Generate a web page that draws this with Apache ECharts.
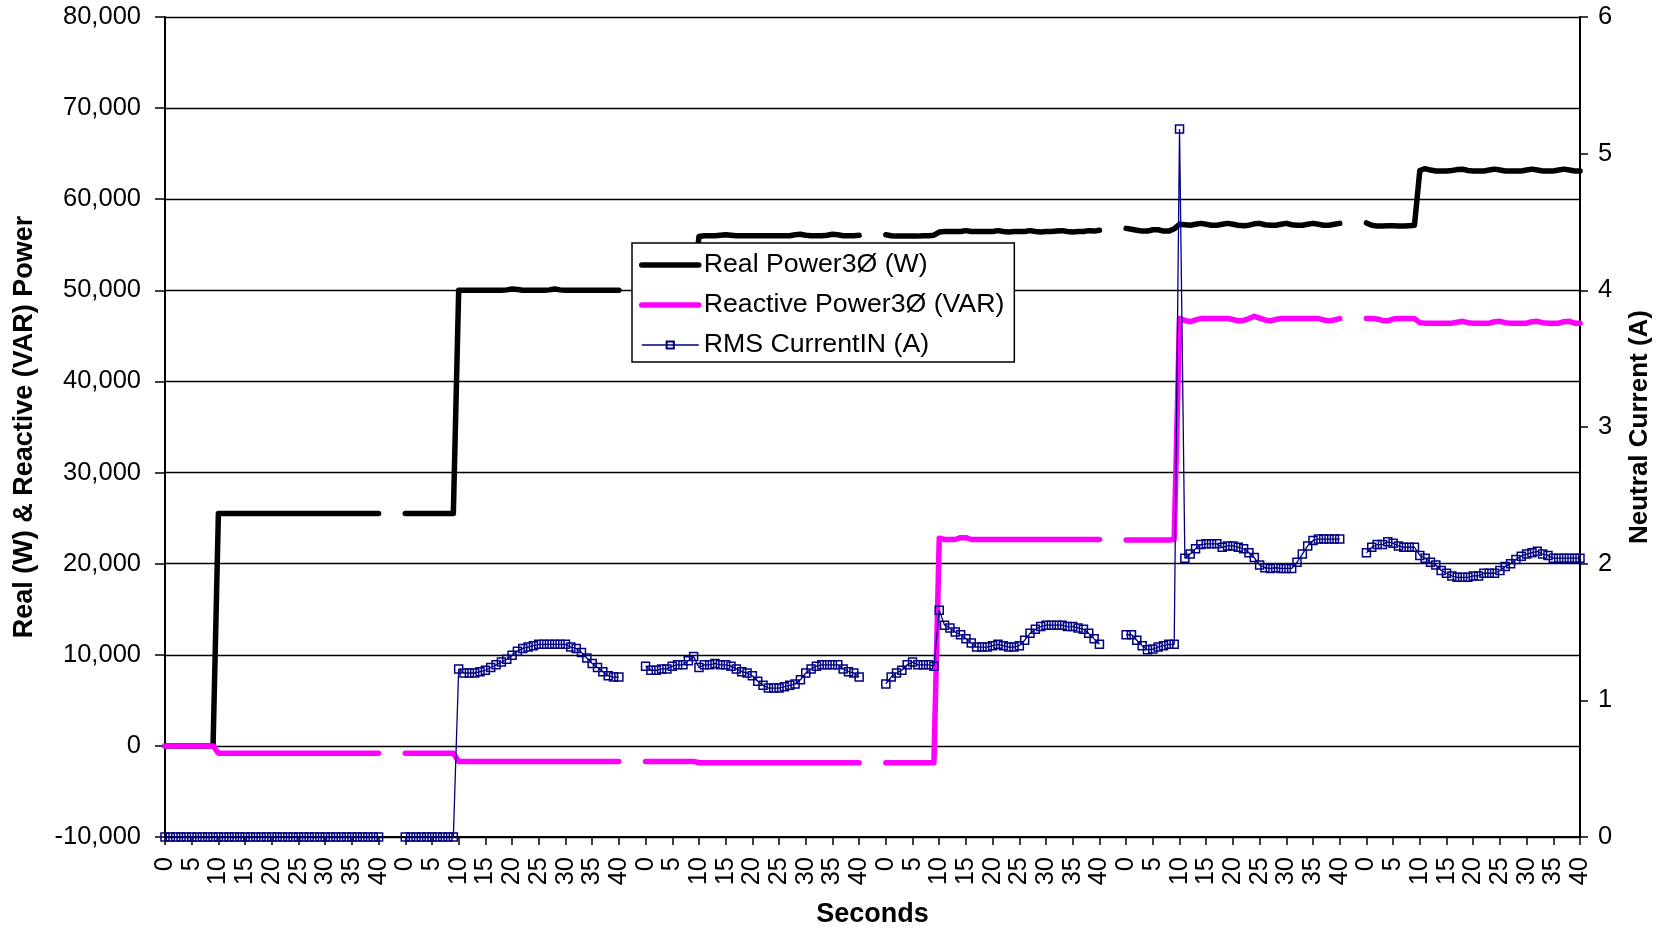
<!DOCTYPE html>
<html>
<head>
<meta charset="utf-8">
<script src="https://cdn.jsdelivr.net/npm/echarts@6/dist/echarts.min.js"></script>
<style>
  html, body { margin: 0; padding: 0; background: #fff; }
  #chart { width: 1669px; height: 930px; }
</style>
</head>
<body>
<div id="chart"></div>
<script>
// each run is 0..40 s, one sample per second; runs are separated by 4 blank rows
var runLength = 41;
var blankRows = 4;

// Real Power3Ø (W)
var real1 = [0,0,0,0,0,0,0,0,0,0,
  25500,25500,25500,25500,25500,25500,25500,25500,25500,25500,
  25500,25500,25500,25500,25500,25500,25500,25500,25500,25500,
  25500,25500,25500,25500,25500,25500,25500,25500,25500,25500,25500];
var real2 = [25500,25500,25500,25500,25500,25500,25500,25500,25500,25500,
  50000,50000,50000,50000,50000,50000,50000,50000,50000,50050,
  50150,50100,50000,50000,50000,50000,50000,50050,50150,50050,
  50000,50000,50000,50000,50000,50000,50000,50000,50000,50000,50000];
var real3 = [50000,50000,50000,50000,50000,50000,50000,50000,50000,50000,
  55900,56000,56000,56000,56050,56100,56050,56000,56000,56000,
  56000,56000,56000,56000,56000,56000,56000,56000,56100,56150,
  56050,56000,56000,56000,56050,56150,56100,56000,56000,56000,56050];
var real4 = [56100,56000,55950,55950,55950,55950,55950,56000,56000,56050,
  56400,56450,56450,56450,56450,56550,56450,56450,56450,56450,
  56450,56550,56450,56400,56450,56450,56450,56550,56450,56400,
  56450,56450,56500,56550,56450,56400,56450,56450,56550,56500,56600];
var real5 = [56800,56700,56600,56500,56500,56650,56650,56500,56500,56750,
  57250,57200,57150,57250,57350,57250,57150,57150,57250,57350,
  57250,57150,57100,57150,57300,57350,57200,57150,57150,57250,
  57350,57200,57150,57150,57250,57350,57250,57150,57150,57250,57350];
var real6 = [57400,57150,57050,57050,57100,57100,57050,57050,57100,57150,
  63150,63350,63200,63100,63100,63100,63150,63250,63300,63150,
  63100,63100,63100,63200,63300,63200,63100,63100,63100,63100,
  63200,63300,63200,63100,63100,63100,63200,63300,63200,63100,63100];

// Reactive Power3Ø (VAR)
var reac1 = [0,0,0,0,0,0,0,0,0,0,
  -800,-800,-800,-800,-800,-800,-800,-800,-800,-800,
  -800,-800,-800,-800,-800,-800,-800,-800,-800,-800,
  -800,-800,-800,-800,-800,-800,-800,-800,-800,-800,-800];
var reac2 = [-800,-800,-800,-800,-800,-800,-800,-800,-800,-800,
  -1700,-1700,-1700,-1700,-1700,-1700,-1700,-1700,-1700,-1700,
  -1700,-1700,-1700,-1700,-1700,-1700,-1700,-1700,-1700,-1700,
  -1700,-1700,-1700,-1700,-1700,-1700,-1700,-1700,-1700,-1700,-1700];
var reac3 = [-1700,-1700,-1700,-1700,-1700,-1700,-1700,-1700,-1700,-1700,
  -1850,-1850,-1850,-1850,-1850,-1850,-1850,-1850,-1850,-1850,
  -1850,-1850,-1850,-1850,-1850,-1850,-1850,-1850,-1850,-1850,
  -1850,-1850,-1850,-1850,-1850,-1850,-1850,-1850,-1850,-1850,-1850];
var reac4 = [-1850,-1850,-1850,-1850,-1850,-1850,-1850,-1850,-1850,-1850,
  22800,22650,22650,22650,22850,22850,22650,22650,22650,22650,
  22650,22650,22650,22650,22650,22650,22650,22650,22650,22650,
  22650,22650,22650,22650,22650,22650,22650,22650,22650,22650,22650];
var reac5 = [22600,22600,22600,22600,22600,22600,22600,22600,22600,22650,
  46900,46700,46550,46750,46900,46900,46900,46900,46900,46900,
  46800,46650,46700,46900,47150,46950,46750,46650,46800,46900,
  46900,46900,46900,46900,46900,46900,46900,46750,46650,46750,46900];
var reac6 = [46900,46900,46850,46700,46650,46850,46900,46900,46900,46900,
  46450,46400,46400,46400,46400,46400,46400,46500,46600,46450,
  46400,46400,46400,46400,46550,46600,46450,46400,46400,46400,
  46400,46550,46600,46450,46400,46400,46400,46550,46600,46400,46400];

// RMS CurrentIN (A)
var rms1 = [0,0,0,0,0,0,0,0,0,0,
  0,0,0,0,0,0,0,0,0,0,
  0,0,0,0,0,0,0,0,0,0,
  0,0,0,0,0,0,0,0,0,0,0];
var rms2 = [0,0,0,0,0,0,0,0,0,0,
  1.23,1.20,1.20,1.20,1.21,1.22,1.24,1.26,1.28,1.30,
  1.33,1.36,1.38,1.39,1.40,1.41,1.41,1.41,1.41,1.41,
  1.41,1.39,1.38,1.35,1.31,1.27,1.24,1.21,1.18,1.17,1.17];
var rms3 = [1.25,1.22,1.22,1.23,1.23,1.25,1.26,1.26,1.29,1.32,
  1.24,1.26,1.26,1.27,1.26,1.26,1.25,1.23,1.21,1.20,
  1.18,1.14,1.11,1.09,1.09,1.09,1.10,1.11,1.12,1.15,
  1.20,1.23,1.25,1.26,1.26,1.26,1.26,1.23,1.21,1.20,1.17];
var rms4 = [1.12,1.17,1.20,1.22,1.26,1.28,1.26,1.26,1.26,1.25,
  1.66,1.55,1.53,1.50,1.48,1.45,1.42,1.39,1.39,1.39,
  1.40,1.41,1.40,1.39,1.39,1.40,1.44,1.49,1.52,1.54,
  1.55,1.55,1.55,1.55,1.54,1.54,1.53,1.52,1.49,1.45,1.41];
var rms5 = [1.48,1.48,1.44,1.40,1.37,1.375,1.39,1.40,1.41,1.41,
  5.18,2.04,2.07,2.11,2.14,2.145,2.145,2.145,2.12,2.13,
  2.13,2.12,2.11,2.08,2.045,1.99,1.97,1.965,1.97,1.965,
  1.965,1.965,2.01,2.07,2.13,2.17,2.18,2.18,2.18,2.18,2.18];
var rms6 = [2.08,2.12,2.14,2.14,2.16,2.15,2.13,2.12,2.12,2.12,
  2.06,2.04,2.01,1.99,1.95,1.93,1.91,1.90,1.90,1.90,
  1.91,1.91,1.93,1.93,1.93,1.95,1.98,2.00,2.03,2.055,
  2.07,2.08,2.09,2.07,2.06,2.04,2.04,2.04,2.04,2.04,2.04];

var realRuns = [real1, real2, real3, real4, real5, real6];
var reacRuns = [reac1, reac2, reac3, reac4, reac5, reac6];
var rmsRuns  = [rms1, rms2, rms3, rms4, rms5, rms6];

// category rows: seconds of each run, blank rows in between
var categories = [];
for (var r = 0; r < realRuns.length; r++) {
  for (var t = 0; t < runLength; t++) categories.push(String(t));
  if (r < realRuns.length - 1) {
    for (var b = 0; b < blankRows; b++) categories.push('');
  }
}

function joinRuns(runs) {
  var out = [];
  for (var r = 0; r < runs.length; r++) {
    out = out.concat(runs[r]);
    if (r < runs.length - 1) {
      for (var b = 0; b < blankRows; b++) out.push(null);
    }
  }
  return out;
}

var font = '"Liberation Sans", Arial, sans-serif';
var chart = echarts.init(document.getElementById('chart'));

var option = {
  animation: false,
  backgroundColor: '#fff',
  textStyle: { fontFamily: font, color: '#000' },
  grid: { left: 165, right: 89, top: 17, bottom: 93, outerBoundsMode: 'none', containLabel: false },
  legend: {
    orient: 'vertical',
    left: 632,
    top: 243,
    padding: [7, 10, 2, 7],
    itemWidth: 57,
    itemHeight: 9,
    itemGap: 10,
    backgroundColor: '#fff',
    borderColor: '#000',
    borderWidth: 1.5,
    textStyle: { fontFamily: font, fontSize: 26.7, color: '#000', lineHeight: 30 },
    data: [
      { name: 'Real Power3Ø (W)', itemStyle: { opacity: 0 }, lineStyle: { width: 5.5, cap: 'round' } },
      { name: 'Reactive Power3Ø (VAR)', itemStyle: { opacity: 0 }, lineStyle: { width: 5.5, cap: 'round' } },
      { name: 'RMS CurrentIN (A)', lineStyle: { width: 1.5 } }
    ]
  },
  xAxis: {
    type: 'category',
    data: categories,
    boundaryGap: false,
    name: 'Seconds',
    nameLocation: 'middle',
    nameGap: 64,
    nameTextStyle: { fontFamily: font, fontSize: 27, fontWeight: 'bold', color: '#000' },
    axisLine: { onZero: false, lineStyle: { color: '#000', width: 2 } },
    axisTick: { interval: 4, length: 8, lineStyle: { color: '#000', width: 1.5 } },
    axisLabel: { interval: 4, rotate: 90, margin: 20, fontSize: 25.5, color: '#000', fontFamily: font },
    splitLine: { show: false }
  },
  yAxis: [
    {
      type: 'value',
      min: -10000,
      max: 80000,
      interval: 10000,
      name: 'Real (W) & Reactive (VAR) Power',
      nameLocation: 'middle',
      nameGap: 127,
      nameTextStyle: { fontFamily: font, fontSize: 27, fontWeight: 'bold', color: '#000' },
      axisLine: { show: true, lineStyle: { color: '#000', width: 2 } },
      axisTick: { show: true, length: 10, lineStyle: { color: '#000', width: 1.5 } },
      axisLabel: {
        margin: 24, fontSize: 25.5, color: '#000', fontFamily: font,
        formatter: function (v) { return v.toLocaleString('en-US'); }
      },
      splitLine: { show: true, lineStyle: { color: '#000', width: 1.3 } }
    },
    {
      type: 'value',
      position: 'right',
      min: 0,
      max: 6,
      interval: 1,
      name: 'Neutral Current (A)',
      nameLocation: 'middle',
      nameGap: 47,
      nameTextStyle: { fontFamily: font, fontSize: 26, fontWeight: 'bold', color: '#000' },
      axisLine: { show: true, lineStyle: { color: '#000', width: 2 } },
      axisTick: { show: true, length: 8, lineStyle: { color: '#000', width: 1.5 } },
      axisLabel: { margin: 18, fontSize: 25.5, color: '#000', fontFamily: font },
      splitLine: { show: false }
    }
  ],
  series: [
    {
      name: 'Real Power3Ø (W)',
      type: 'line',
      yAxisIndex: 0,
      symbol: 'none',
      data: joinRuns(realRuns),
      itemStyle: { color: '#000' },
      lineStyle: { color: '#000', width: 5.5, cap: 'round', join: 'round' }
    },
    {
      name: 'Reactive Power3Ø (VAR)',
      type: 'line',
      yAxisIndex: 0,
      symbol: 'none',
      data: joinRuns(reacRuns),
      itemStyle: { color: '#FF00FF' },
      lineStyle: { color: '#FF00FF', width: 5.5, cap: 'round', join: 'round' }
    },
    {
      name: 'RMS CurrentIN (A)',
      type: 'line',
      yAxisIndex: 1,
      symbol: 'rect',
      symbolSize: 8,
      showAllSymbol: true,
      data: joinRuns(rmsRuns),
      itemStyle: { color: 'rgba(0,0,0,0)', borderColor: '#000080', borderWidth: 1.5 },
      lineStyle: { color: '#000080', width: 1.3 }
    }
  ]
};

chart.setOption(option);
</script>
</body>
</html>
